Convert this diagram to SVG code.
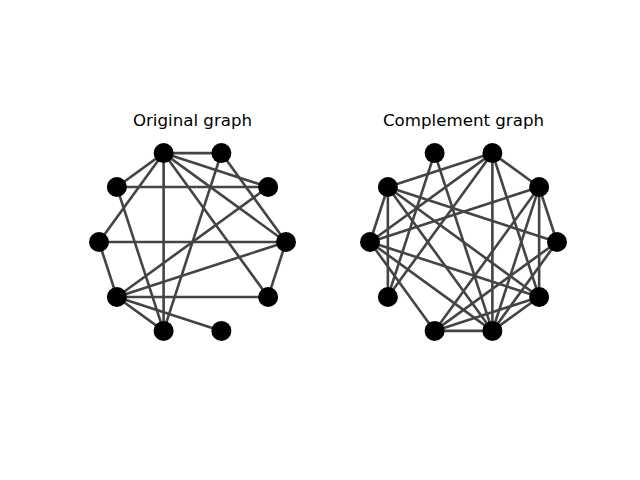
<svg xmlns="http://www.w3.org/2000/svg" width="640" height="480" viewBox="0 0 640 480">
<style>
.e{stroke:#444;stroke-width:2.6;stroke-linecap:butt;fill:none}
.n{fill:#000}
.t{font-family:"DejaVu Sans",sans-serif;font-size:16.67px;fill:#000;text-anchor:middle}
</style>
<rect width="640" height="480" fill="#fff"/>
<text class="t" x="192.5" y="126">Original graph</text>
<text class="t" x="463.5" y="126">Complement graph</text>
<g id="connectors">
<g id="edges-original">
<path class="e" d="M163.61,153.08L221.39,153.08"/>
<path class="e" d="M163.61,153.08L116.86,187.04"/>
<path class="e" d="M163.61,153.08L268.14,187.04"/>
<path class="e" d="M163.61,153.08L99,242"/>
<path class="e" d="M163.61,153.08L286,242"/>
<path class="e" d="M163.61,153.08L268.14,296.96"/>
<path class="e" d="M163.61,153.08L163.61,330.92"/>
<path class="e" d="M221.39,153.08L286,242"/>
<path class="e" d="M221.39,153.08L163.61,330.92"/>
<path class="e" d="M116.86,187.04L268.14,187.04"/>
<path class="e" d="M116.86,187.04L163.61,330.92"/>
<path class="e" d="M268.14,187.04L116.86,296.96"/>
<path class="e" d="M99,242L286,242"/>
<path class="e" d="M99,242L116.86,296.96"/>
<path class="e" d="M286,242L116.86,296.96"/>
<path class="e" d="M286,242L268.14,296.96"/>
<path class="e" d="M116.86,296.96L268.14,296.96"/>
<path class="e" d="M116.86,296.96L163.61,330.92"/>
<path class="e" d="M116.86,296.96L221.39,330.92"/>
</g>
<g id="edges-complement">
<path class="e" d="M434.61,153.08L387.86,296.96"/>
<path class="e" d="M434.61,153.08L492.39,330.92"/>
<path class="e" d="M492.39,153.08L387.86,187.04"/>
<path class="e" d="M492.39,153.08L539.14,187.04"/>
<path class="e" d="M492.39,153.08L370,242"/>
<path class="e" d="M492.39,153.08L387.86,296.96"/>
<path class="e" d="M492.39,153.08L539.14,296.96"/>
<path class="e" d="M492.39,153.08L492.39,330.92"/>
<path class="e" d="M387.86,187.04L370,242"/>
<path class="e" d="M387.86,187.04L557,242"/>
<path class="e" d="M387.86,187.04L387.86,296.96"/>
<path class="e" d="M387.86,187.04L539.14,296.96"/>
<path class="e" d="M387.86,187.04L492.39,330.92"/>
<path class="e" d="M539.14,187.04L370,242"/>
<path class="e" d="M539.14,187.04L557,242"/>
<path class="e" d="M539.14,187.04L539.14,296.96"/>
<path class="e" d="M539.14,187.04L434.61,330.92"/>
<path class="e" d="M539.14,187.04L492.39,330.92"/>
<path class="e" d="M370,242L539.14,296.96"/>
<path class="e" d="M370,242L434.61,330.92"/>
<path class="e" d="M370,242L492.39,330.92"/>
<path class="e" d="M557,242L434.61,330.92"/>
<path class="e" d="M557,242L492.39,330.92"/>
<path class="e" d="M539.14,296.96L434.61,330.92"/>
<path class="e" d="M539.14,296.96L492.39,330.92"/>
<path class="e" d="M434.61,330.92L492.39,330.92"/>
</g>
</g>
<g id="nodes-original">
<g id="o0"><circle class="n" cx="286" cy="242" r="10"/></g>
<g id="o1"><circle class="n" cx="268.14" cy="187.04" r="10"/></g>
<g id="o2"><circle class="n" cx="221.39" cy="153.08" r="10"/></g>
<g id="o3"><circle class="n" cx="163.61" cy="153.08" r="10"/></g>
<g id="o4"><circle class="n" cx="116.86" cy="187.04" r="10"/></g>
<g id="o5"><circle class="n" cx="99" cy="242" r="10"/></g>
<g id="o6"><circle class="n" cx="116.86" cy="296.96" r="10"/></g>
<g id="o7"><circle class="n" cx="163.61" cy="330.92" r="10"/></g>
<g id="o8"><circle class="n" cx="221.39" cy="330.92" r="10"/></g>
<g id="o9"><circle class="n" cx="268.14" cy="296.96" r="10"/></g>
</g>
<g id="nodes-complement">
<g id="c0"><circle class="n" cx="557" cy="242" r="10"/></g>
<g id="c1"><circle class="n" cx="539.14" cy="187.04" r="10"/></g>
<g id="c2"><circle class="n" cx="492.39" cy="153.08" r="10"/></g>
<g id="c3"><circle class="n" cx="434.61" cy="153.08" r="10"/></g>
<g id="c4"><circle class="n" cx="387.86" cy="187.04" r="10"/></g>
<g id="c5"><circle class="n" cx="370" cy="242" r="10"/></g>
<g id="c6"><circle class="n" cx="387.86" cy="296.96" r="10"/></g>
<g id="c7"><circle class="n" cx="434.61" cy="330.92" r="10"/></g>
<g id="c8"><circle class="n" cx="492.39" cy="330.92" r="10"/></g>
<g id="c9"><circle class="n" cx="539.14" cy="296.96" r="10"/></g>
</g>
</svg>
